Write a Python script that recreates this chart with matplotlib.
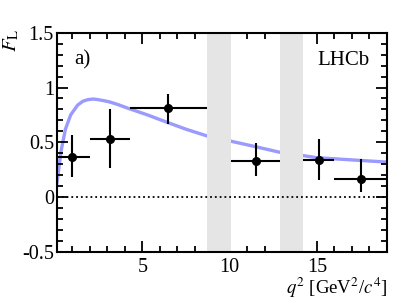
import numpy as np
import matplotlib
matplotlib.use("Agg")
import matplotlib.pyplot as plt
from matplotlib.ticker import MultipleLocator

plt.rcParams['font.family'] = ['Liberation Serif', 'DejaVu Serif']
plt.rcParams['mathtext.fontset'] = 'stix'

# measured F_L in q^2 bins
q2_lo = [0.1, 2.0, 4.3, 10.09, 14.18, 16.0]
q2_hi = [2.0, 4.3, 8.68, 12.86, 16.0, 19.0]
q2_c = [1.0, 3.13, 6.47, 11.5, 15.13, 17.55]
fl = [0.37, 0.53, 0.81, 0.33, 0.34, 0.17]
fl_up = [0.20, 0.27, 0.13, 0.16, 0.19, 0.18]
fl_dn = [0.19, 0.26, 0.14, 0.14, 0.18, 0.12]

# SM prediction curve
sm_q2 = [0.1, 0.35, 0.6, 0.9, 1.3, 1.6, 1.9, 2.2, 2.45, 2.8, 3.1, 3.6, 4.2, 5.3, 6.3, 7.5, 8.68,
         10.09, 11.5, 12.86, 14.18, 15.0, 16.0, 17.0, 18.0, 19.0]
sm_fl = [0.11, 0.42, 0.62, 0.75, 0.84, 0.875, 0.89, 0.895, 0.89, 0.88, 0.87, 0.845, 0.81, 0.75, 0.69, 0.62, 0.56,
         0.51, 0.46, 0.41, 0.38, 0.36, 0.35, 0.34, 0.33, 0.32]

# charmonium vetoes
vetoes = [(8.68, 10.09), (12.86, 14.18)]

q2_c = np.array(q2_c)
xerr = [q2_c - np.array(q2_lo), np.array(q2_hi) - q2_c]

fig = plt.figure(figsize=(4.09, 3.0), dpi=100)
ax = fig.add_axes([0.1386, 0.16, 0.807, 0.731])

ax.plot(sm_q2, sm_fl, color='#9a9aff', lw=2.4, zorder=1, solid_capstyle='butt')
for lo, hi in vetoes:
    ax.axvspan(lo, hi, color='#e5e5e5', lw=0, zorder=2)
ax.axhline(0, color='black', ls=':', lw=1.3, zorder=3)
ax.errorbar(q2_c, fl, xerr=xerr, yerr=[fl_dn, fl_up], fmt='o', color='black',
            ms=5.5, lw=1.5, capsize=0, zorder=4)

ax.set_xlim(0.1, 19.0)
ax.set_ylim(-0.5, 1.5)
ax.xaxis.set_minor_locator(MultipleLocator(1))
ax.yaxis.set_minor_locator(MultipleLocator(0.1))
ax.set_yticks([-0.5, 0, 0.5, 1, 1.5])
ax.set_yticklabels(['-0.5', '0', '0.5', '1', '1.5'])
ax.set_xticks([5, 10, 15])
ax.tick_params(which='both', direction='in', top=True, right=True, labelsize=14.5, width=1.3)
ax.tick_params(axis='x', pad=4.5)
ax.tick_params(axis='y', pad=2)
ax.tick_params(which='major', length=8)
ax.tick_params(which='minor', length=4)
for s in ax.spines.values():
    s.set_linewidth(1.5)

ax.text(0.052, 0.853, 'a)', transform=ax.transAxes, fontsize=15, va='baseline')
ax.text(0.949, 0.853, 'LHCb', transform=ax.transAxes, fontsize=15, ha='right', va='baseline')
fig.text(0.028, 0.905, r'$F_{\rm L}$', rotation=90, fontsize=15, ha='center', va='top')
fig.text(0.948, 0.0, r'$q^2$ [GeV$^2$/$c^4$]', fontsize=13.5, ha='right', va='bottom')

fig.savefig('out.png', dpi=100)
